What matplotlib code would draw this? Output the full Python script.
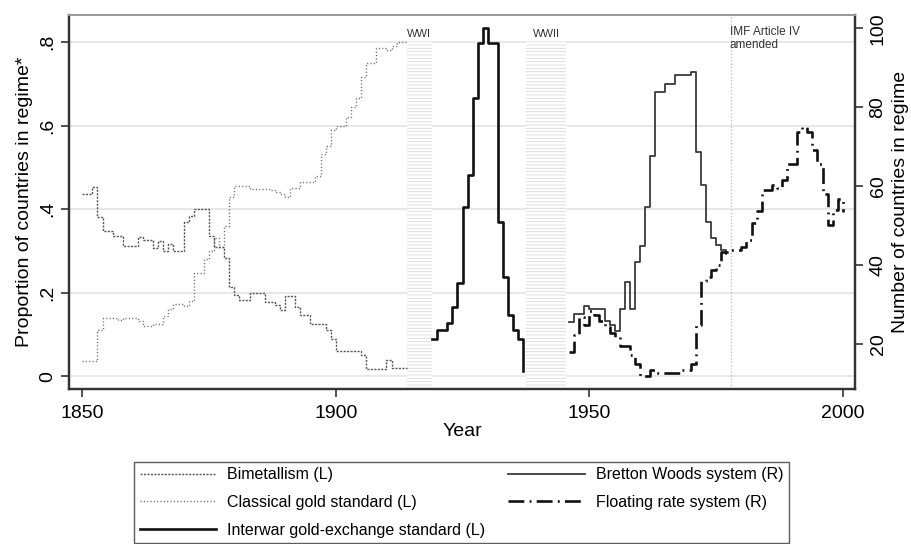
import matplotlib.pyplot as plt
import numpy as np

plt.rcParams['font.family'] = ['Liberation Sans', 'DejaVu Sans']
plt.rcParams['hatch.linewidth'] = 0.6

# share of countries in each regime (left axis), one value per year
years_pre = np.arange(1850, 1915)
bimetallism = [.436, .436, .452, .380, .348, .348, .336, .336, .312, .312,
               .312, .332, .326, .326, .306, .324, .300, .316, .300, .300,
               .368, .384, .400, .400, .400, .336, .310, .310, .284, .214,
               .194, .182, .182, .200, .200, .200, .178, .178, .170, .158,
               .192, .192, .166, .146, .146, .125, .125, .125, .110, .090,
               .060, .060, .060, .060, .060, .050, .018, .018, .018, .018,
               .038, .020, .020, .020, .020]
classical = [.036, .036, .036, .110, .140, .140, .140, .135, .140, .140,
             .140, .132, .120, .120, .124, .124, .144, .160, .172, .172,
             .168, .180, .248, .248, .280, .300, .330, .310, .360, .430,
             .455, .455, .455, .448, .448, .448, .448, .446, .440, .437,
             .430, .450, .450, .465, .465, .465, .480, .533, .550, .589,
             .600, .600, .620, .645, .665, .717, .750, .750, .785, .785,
             .780, .790, .800, .800, .800]

years_interwar = np.arange(1919, 1938)
interwar = [.090, .110, .110, .127, .166, .222, .406, .482, .665, .797,
            .835, .797, .797, .370, .238, .146, .110, .090, .0125]

# number of countries (right axis)
years_bw = np.arange(1946, 1978)
bretton_woods = [25.6, 27.7, 27.7, 29.8, 29.0, 29.0, 29.0, 26.0, 24.8, 23.5,
                 29.0, 35.7, 29.0, 40.8, 45.0, 54.8, 67.8, 84.0, 84.0, 85.9,
                 85.9, 88.1, 88.1, 88.1, 89.0, 68.8, 60.3, 51.1, 46.9, 45.2,
                 43.8, 43.0]

years_float = np.arange(1946, 2001)
floating = [18.1, 22.5, 26.9, 25.0, 28.5, 27.5, 25.8, 24.5, 23.0, 21.8,
            19.7, 19.7, 17.2, 15.0, 11.9, 11.9, 13.5, 12.8, 12.8, 12.8,
            12.8, 12.8, 13.5, 13.5, 15.1, 25.0, 36.0, 37.1, 38.8, 40.1,
            43.4, 43.4, 43.8, 44.0, 44.6, 46.5, 50.8, 53.8, 59.0, 59.0,
            60.3, 59.5, 61.6, 65.8, 65.8, 73.8, 75.0, 73.8, 69.2, 65.8,
            58.2, 50.2, 54.0, 56.9, 53.6]

war_spans = [(1914, 1919), (1937.5, 1945.5)]
war_labels = ['WWI', 'WWII']
imf_year = 1978

fig = plt.figure(figsize=(9.12, 5.44), dpi=100)
ax = fig.add_axes([0.0757, 0.2849, 0.8618, 0.6875])
ax2 = ax.twinx()

ax.set_xlim(1847.4, 2002.4)
ax.set_ylim(-0.031, 0.865)
ax2.set_ylim(8.7, 103.4)

# light horizontal grid at the left ticks
ax.set_yticks([0, .2, .4, .6, .8])
ax.set_yticklabels(['0', '.2', '.4', '.6', '.8'])
ax.grid(axis='y', color='#e6e6e6', lw=1.3, zorder=0)
ax.set_axisbelow(True)

# war periods, hatched
for (x0, x1), lab in zip(war_spans, war_labels):
    ax.fill_between([x0, x1], -0.031, 0.8, facecolor='white', edgecolor='#dadada',
                    hatch='-----', linewidth=0, zorder=1)
    ax.text((x0 + x1) / 2, 0.82, lab, ha='center', va='center', fontsize=8,
            color='#333333')

ax.axvline(imf_year, color='#bbbbbb', lw=0.9, ls=':', zorder=1)
ax.text(imf_year - 0.3, 0.838, 'IMF Article IV\namended', ha='left', va='top',
        fontsize=8.5, color='#333333', linespacing=1.05)

l1, = ax.plot(years_pre, bimetallism, drawstyle='steps-post', color='#555555',
              lw=1.0, ls=(0, (1.5, 1.0)), zorder=3)
l2, = ax.plot(years_pre, classical, drawstyle='steps-post', color='#666666',
              lw=1.0, ls=(0, (0.8, 1.6)), zorder=3)
l3, = ax.plot(years_interwar, interwar, drawstyle='steps-post', color='#111111',
              lw=1.9, zorder=3)
l4, = ax2.plot(years_bw, bretton_woods, drawstyle='steps-post', color='#3a3a3a',
               lw=1.3)
l5, = ax2.plot(years_float, floating, drawstyle='steps-post', color='#111111',
               lw=1.9, ls=(0, (6, 2.0, 0.7, 2.0)))

ax.set_xticks([1850, 1900, 1950, 2000])
ax2.set_yticks([20, 40, 60, 80, 100])

ax.tick_params(axis='x', labelsize=14, length=5.5, width=1.2, pad=6, color='#333333')
ax.tick_params(axis='y', labelsize=14, length=6, width=1.2, pad=3, labelrotation=90,
               color='#333333')
ax2.tick_params(axis='y', labelsize=14, length=5.5, width=1.2, pad=5, labelrotation=90,
                color='#333333')
for t in ax.get_yticklabels() + ax2.get_yticklabels():
    t.set_va('center')

for a in (ax, ax2):
    for s in ('left', 'bottom', 'right'):
        a.spines[s].set_color('#333333')
        a.spines[s].set_linewidth(1.6)
    a.spines['top'].set_color('#999999')
    a.spines['top'].set_linewidth(1.4)

ax.set_xlabel('Year', fontsize=14, labelpad=1)
ax.set_ylabel('Proportion of countries in regime*', fontsize=14, labelpad=5)
ax2.set_ylabel('Number of countries in regime', fontsize=14, labelpad=4)

leg = fig.legend([l1, l2, l3, l4, l5],
                 ['Bimetallism (L)', 'Classical gold standard (L)',
                  'Interwar gold-exchange standard (L)', 'Bretton Woods system (R)',
                  'Floating rate system (R)'],
                 loc='upper center', bbox_to_anchor=(0.506, 0.166), ncol=2,
                 fontsize=11.5, frameon=True, fancybox=False, edgecolor='#333333',
                 handlelength=4.8, handletextpad=0.7, columnspacing=1.4,
                 labelspacing=0.8, borderpad=0.35,
                 bbox_transform=fig.transFigure)
leg.get_frame().set_linewidth(1.0)

fig.savefig('out.png', dpi=100)
